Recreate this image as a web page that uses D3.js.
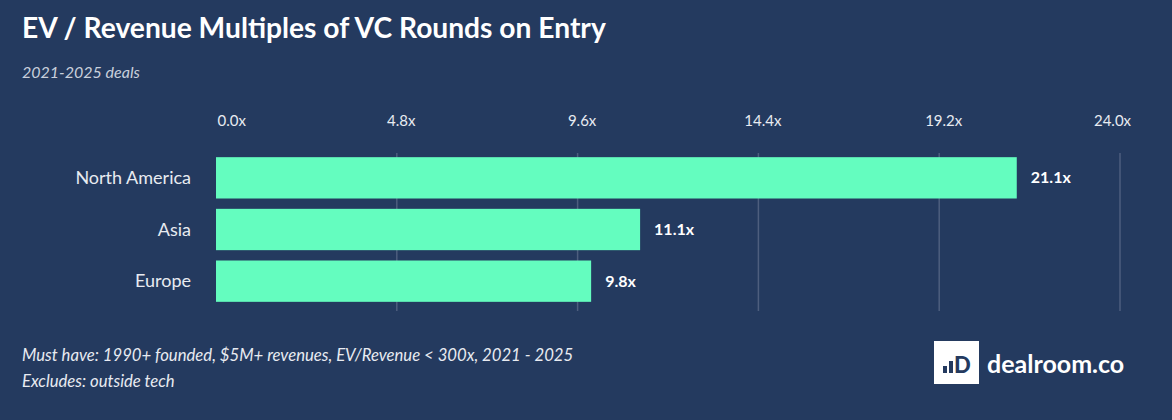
<!DOCTYPE html>
<html lang="en">
<head>
    <meta charset="UTF-8">
    <title>EV / Revenue Multiples of VC Rounds on Entry</title>
    <script src="https://d3js.org/d3.v7.min.js"></script>
    <style>
        body {
            margin: 0;
            background: #243a5f;
            font-family: Lato, "Noto Sans", sans-serif;
        }
        svg { display: block; }
        .grid line { stroke: #4d5e7e; stroke-width: 1.5; }
        .axis text { fill: #e8ebf1; font-size: 15px; }
        .cat { fill: #e8ebf1; font-size: 18px; }
        .val { fill: #ffffff; font-size: 16px; font-weight: bold; }
        .note { fill: #e8ebf1; font-size: 16.7px; font-style: italic; }
    </style>
</head>
<body>
    <svg width="1172" height="420"></svg>

    <script>
        const regions = ["North America", "Asia", "Europe"];
        const multiples = [21.1, 11.1, 9.8];
        const tickValues = [0, 4.8, 9.6, 14.4, 19.2, 24.0];

        const svg = d3.select("svg");

        const x = d3.scaleLinear().domain([0, 24]).range([216, 1120]);
        const y = d3.scaleBand().domain(regions).range([152, 307])
            .paddingInner(0.2).paddingOuter(0.1);

        // title + subtitle
        svg.append("text")
            .attr("x", 22).attr("y", 38)
            .attr("fill", "#ffffff")
            .style("font-size", "28.2px").style("font-weight", "bold")
            .text("EV / Revenue Multiples of VC Rounds on Entry");

        svg.append("text")
            .attr("class", "note")
            .attr("x", 22).attr("y", 78)
            .style("fill", "#c9d0dc").style("font-size", "16px")
            .text("2021-2025 deals");

        // gridlines
        svg.append("g").attr("class", "grid")
            .selectAll("line")
            .data(tickValues.slice(1))
            .enter().append("line")
            .attr("x1", d => x(d)).attr("x2", d => x(d))
            .attr("y1", 153).attr("y2", 311);

        // top axis labels
        const axis = svg.append("g")
            .attr("class", "axis")
            .attr("transform", "translate(0,126)")
            .call(d3.axisTop(x).tickValues(tickValues).tickSize(0).tickPadding(0)
                .tickFormat(d => d3.format(".1f")(d) + "x"));
        axis.select(".domain").remove();
        axis.selectAll("text").attr("dx", 4).style("font-family", "Lato, sans-serif");
        axis.selectAll(".tick").filter(d => d === 0).select("text")
            .attr("text-anchor", "start").attr("dx", 1);
        axis.selectAll(".tick").filter(d => d === 24).select("text")
            .attr("dx", -8);

        const rows = regions.map((r, i) => ({ region: r, value: multiples[i] }));

        // bars
        svg.append("g")
            .selectAll("rect")
            .data(rows)
            .enter().append("rect")
            .attr("x", x(0))
            .attr("y", d => y(d.region))
            .attr("width", d => x(d.value) - x(0) + 6)
            .attr("height", y.bandwidth())
            .attr("fill", "#64fdbf");

        // category labels
        svg.append("g")
            .selectAll("text")
            .data(rows)
            .enter().append("text")
            .attr("class", "cat")
            .attr("x", 191)
            .attr("y", d => y(d.region) + y.bandwidth() / 2)
            .attr("dy", "0.35em")
            .attr("text-anchor", "end")
            .text(d => d.region);

        // value labels
        svg.append("g")
            .selectAll("text")
            .data(rows)
            .enter().append("text")
            .attr("class", "val")
            .attr("x", d => x(d.value) + 20)
            .attr("y", d => y(d.region) + y.bandwidth() / 2)
            .attr("dy", "0.35em")
            .text(d => d3.format(".1f")(d.value) + "x");

        // footnotes
        svg.append("text").attr("class", "note")
            .attr("x", 22).attr("y", 361)
            .text("Must have: 1990+ founded, $5M+ revenues, EV/Revenue < 300x, 2021 - 2025");
        svg.append("text").attr("class", "note")
            .attr("x", 22).attr("y", 387)
            .text("Excludes: outside tech");

        // dealroom logo
        const logo = svg.append("g").attr("transform", "translate(934,341)");
        logo.append("rect").attr("width", 45).attr("height", 43).attr("fill", "#ffffff");
        logo.append("rect").attr("x", 9).attr("y", 25).attr("width", 4).attr("height", 7).attr("fill", "#243a5f");
        logo.append("rect").attr("x", 15).attr("y", 20).attr("width", 4).attr("height", 12).attr("fill", "#243a5f");
        logo.append("text").attr("x", 20).attr("y", 32)
            .attr("fill", "#243a5f")
            .style("font-size", "22px").style("font-weight", "900")
            .text("D");
        svg.append("text")
            .attr("x", 987).attr("y", 373)
            .attr("fill", "#ffffff")
            .style("font-size", "25px").style("font-weight", "bold")
            .text("dealroom.co");
    </script>
</body>
</html>
